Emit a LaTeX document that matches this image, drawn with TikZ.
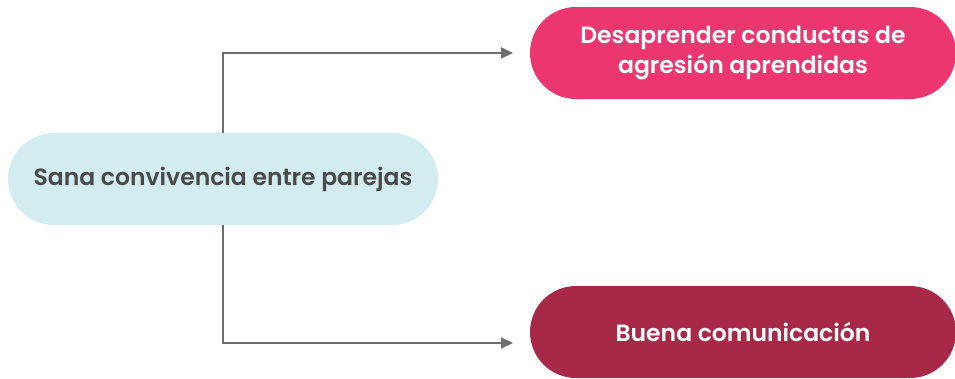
\documentclass[tikz,border=0pt]{standalone}
\usepackage{fontspec}
\setmainfont{Poppins}[BoldFont={Poppins SemiBold}]
\usetikzlibrary{arrows.meta}
\definecolor{lblue}{HTML}{D3ECEF}
\definecolor{pink}{HTML}{EC366F}
\definecolor{wine}{HTML}{A82847}
\definecolor{txtgray}{HTML}{4A4A4A}
\definecolor{lngray}{HTML}{6E6E6E}
\begin{document}
\begin{tikzpicture}[x=1pt,y=-1pt,
  pill/.style={rectangle, rounded corners=46pt, inner sep=0pt, align=center,
    font=\fontsize{23.5}{30}\selectfont\bfseries},
  conn/.style={draw=lngray, line width=2pt, -{Triangle[length=12pt,width=11pt]}}]
\useasboundingbox (0,0) rectangle (955,378);
\node[pill, fill=lblue, text=txtgray, minimum width=430pt, minimum height=92pt] (src) at (223,179) {Sana convivencia entre parejas};
\node[pill, fill=pink, text=white, minimum width=426pt, minimum height=92pt] (top) at (743,53) {Desaprender conductas de\\agresión aprendidas};
\node[pill, fill=wine, text=white, minimum width=426pt, minimum height=92pt] (bot) at (743,332) {Buena comunicación};
\coordinate (t1) at (513,53);
\coordinate (t2) at (513,343);
\draw[conn] (src.north) |- (t1);
\draw[conn] (src.south) |- (t2);
\end{tikzpicture}
\end{document}
